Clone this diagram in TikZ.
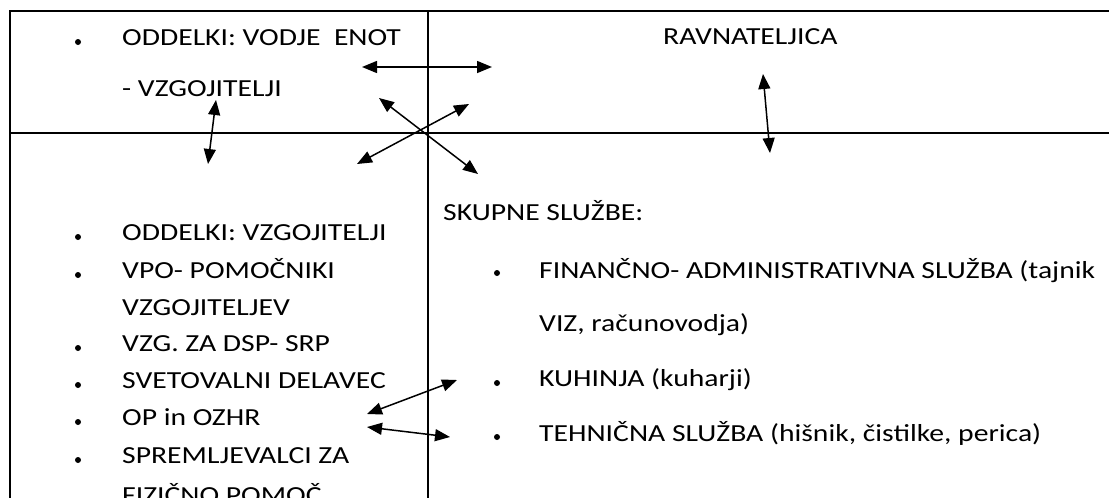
\documentclass[tikz,border=0pt]{standalone}
\usepackage{fontspec}
\setmainfont[FakeStretch=1.21]{Carlito}
\usetikzlibrary{arrows.meta}

\begin{document}
\begin{tikzpicture}[x=1pt, y=-1pt, >={Triangle[length=15pt,width=12pt]},
    txt/.style={anchor=base west, inner sep=0pt, font=\fontsize{24.5}{29}\selectfont},
    dot/.style={circle, fill, inner sep=0pt, minimum size=6pt},
    rule/.style={line width=2.3pt},
    link/.style={<->, line width=1.5pt}]

    % 1. Page size and the lines of the table
    \useasboundingbox (0,0) rectangle (1109,498);
    \clip (0,0) rectangle (1109,498);
    \coordinate (TL) at (10,11);
    \coordinate (TR) at (1120,11);
    \coordinate (ML) at (10,133);
    \coordinate (MR) at (1120,133);
    \coordinate (BL) at (10,510);
    \coordinate (DT) at (428,11);
    \coordinate (DB) at (428,510);

    \draw[rule] (BL) -- (TL) -- (TR);
    \draw[rule] (ML) -- (MR);
    \draw[line width=2pt] (DT) -- (DB);

    % 2. Top left: leaders of the units
    \node[dot] (b-vodje) at (78,42) {};
    \node[txt] (vodje) at (122,45) {ODDELKI: VODJE\ \ ENOT};
    \node[txt] (vodje2) at (122,96) {- VZGOJITELJI};

    % 3. Top right: headmistress
    \node[txt] (ravn) at (663,44) {RAVNATELJICA};

    % 4. Bottom left: the units
    \node[dot] (b-odd) at (78,237) {};
    \node[txt] (odd) at (122,240) {ODDELKI: VZGOJITELJI};
    \node[dot] (b-vpo) at (78,275) {};
    \node[txt] (vpo) at (122,278) {VPO- POMOČNIKI};
    \node[txt] (vpo2) at (122,315) {VZGOJITELJEV};
    \node[dot] (b-dsp) at (78,348) {};
    \node[txt] (dsp) at (122,351) {VZG. ZA DSP- SRP};
    \node[dot] (b-svet) at (78,385) {};
    \node[txt] (svet) at (122,388) {SVETOVALNI DELAVEC};
    \node[dot] (b-op) at (78,422) {};
    \node[txt] (op) at (122,425) {OP in OZHR};
    \node[dot] (b-spr) at (78,460) {};
    \node[txt] (spr) at (122,463) {SPREMLJEVALCI ZA};
    \node[txt] (spr2) at (122,503) {FIZIČNO POMOČ};

    % 5. Bottom right: common services
    \node[txt] (skupne) at (443,220) {SKUPNE SLUŽBE:};
    \node[dot] (b-fin) at (497,273) {};
    \node[txt] (fin) at (539,278) {FINANČNO- ADMINISTRATIVNA SLUŽBA (tajnik};
    \node[txt] (fin2) at (539,331) {VIZ, računovodja)};
    \node[dot] (b-kuh) at (497,383) {};
    \node[txt] (kuh) at (539,386) {KUHINJA (kuharji)};
    \node[dot] (b-teh) at (497,437) {};
    \node[txt] (teh) at (539,441) {TEHNIČNA SLUŽBA (hišnik, čistilke, perica)};

    % 6. Arrow ends
    \coordinate (vodje-e) at (362,67);
    \coordinate (ravn-w) at (492,67);
    \coordinate (vodje-s) at (216,100);
    \coordinate (odd-n) at (208,164);
    \coordinate (vodje-se) at (379,98);
    \coordinate (skupne-nw) at (478,174);
    \coordinate (ravn-sw) at (469,104);
    \coordinate (odd-ne) at (357,164);
    \coordinate (ravn-s) at (763,74);
    \coordinate (skupne-n) at (770,153);
    \coordinate (op-e1) at (367,414);
    \coordinate (kuh-w) at (457,380);
    \coordinate (op-e2) at (367,427);
    \coordinate (teh-w) at (450,437);

    % 7. Arrows
    \draw[link] (vodje-e) -- (ravn-w);
    \draw[link] (vodje-s) -- (odd-n);
    \draw[link] (vodje-se) -- (skupne-nw);
    \draw[link] (ravn-sw) -- (odd-ne);
    \draw[link] (ravn-s) -- (skupne-n);
    \draw[link] (op-e1) -- (kuh-w);
    \draw[link] (op-e2) -- (teh-w);

\end{tikzpicture}
\end{document}
